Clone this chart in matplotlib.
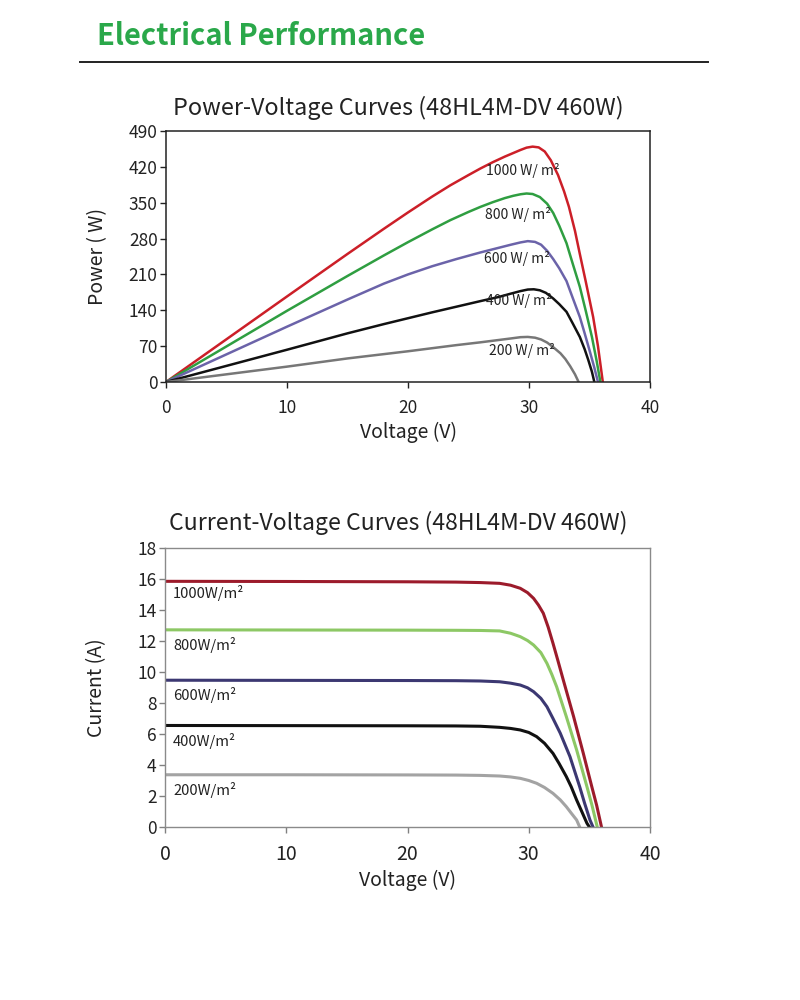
import matplotlib
matplotlib.use("Agg")
import matplotlib.pyplot as plt
from matplotlib.lines import Line2D

plt.rcParams['font.family'] = ['Noto Sans CJK SC', 'DejaVu Sans']

# ---------------- data ----------------
irradiance_pv = ["1000 W/ m²", "800 W/ m²", "600 W/ m²", "400 W/ m²", "200 W/ m²"]
irradiance_iv = ["1000W/m²", "800W/m²", "600W/m²", "400W/m²", "200W/m²"]

pv_v_1000 = [0, 10, 15, 18, 20, 22, 23.5, 25, 26, 27, 28, 28.7, 29.3, 29.8, 30.3, 30.8, 31.3, 31.8, 32.4, 32.9, 33.3, 33.8, 34.2, 34.7, 35.3, 35.7, 36.1]
pv_p_1000 = [0, 167, 250, 299, 331, 362, 384, 404, 417, 429, 440, 447, 453, 457.5, 459.5, 458, 450, 433, 404, 372, 342, 295, 250, 195, 127, 70, 0]
pv_v_800 = [0, 10, 15, 18, 20, 22, 23.5, 25, 26, 27, 28, 28.7, 29.3, 29.8, 30.3, 30.9, 31.5, 32, 32.5, 33.1, 33.6, 34.2, 34.7, 35.2, 35.6, 35.9]
pv_p_800 = [0, 139, 207, 247, 273, 298, 316, 332, 342, 351, 359, 363.5, 366.5, 368, 367, 361, 348, 330, 305, 271, 232, 186, 138, 88, 40, 0]
pv_v_600 = [0, 10, 15, 18, 20, 22, 24, 26, 27.5, 28.5, 29.3, 29.9, 30.5, 31, 31.5, 32, 32.5, 33.1, 33.6, 34.2, 34.6, 35, 35.4, 35.7]
pv_p_600 = [0, 108, 161, 192, 210, 226, 240, 253, 262, 268, 272.5, 275, 273.5, 268, 256, 240, 222, 197, 165, 127, 95, 62, 28, 0]
pv_v_400 = [0, 10, 15, 18, 20, 22, 24, 26, 27.5, 28.5, 29.3, 29.9, 30.4, 30.9, 31.4, 32, 32.5, 33.1, 33.6, 34.2, 34.6, 34.9, 35.2, 35.4]
pv_p_400 = [0, 63, 95, 113, 124.5, 136, 147, 158, 166, 172.5, 177.5, 180.5, 181, 179, 174, 163, 152, 137, 115, 88, 64, 43, 20, 0]
pv_v_200 = [0, 10, 15, 20, 22, 24, 26, 27.5, 28.5, 29.3, 29.9, 30.5, 31, 31.5, 32, 32.6, 33.0, 33.4, 33.8, 34.1]
pv_p_200 = [0, 30, 46, 60, 66, 72, 77.5, 82, 85, 87.5, 88, 86.5, 83, 77, 68, 56, 45, 31, 15, 0]

iv_v_1000 = [0, 10, 20, 24, 26, 27.6, 28.5, 29.3, 29.9, 30.4, 30.8, 31.2, 31.6, 32.0, 32.4, 32.85, 33.7, 34.5, 35.2, 35.6, 36.0]
iv_i_1000 = [15.85, 15.84, 15.82, 15.8, 15.77, 15.72, 15.6, 15.4, 15.12, 14.75, 14.32, 13.79, 12.9, 11.85, 10.75, 9.48, 7.12, 4.75, 2.6, 1.4, 0]
iv_v_800 = [0, 10, 20, 24, 26, 27.6, 28.5, 29.3, 29.9, 30.4, 31.0, 31.5, 31.9, 32.3, 33.1, 33.95, 34.8, 35.2, 35.65]
iv_i_800 = [12.72, 12.71, 12.7, 12.69, 12.68, 12.65, 12.5, 12.28, 12.03, 11.74, 11.25, 10.56, 9.85, 9.05, 7.12, 4.97, 2.6, 1.45, 0]
iv_v_600 = [0, 10, 20, 24, 26, 27.6, 28.5, 29.3, 29.9, 30.4, 31.0, 31.5, 32.0, 32.6, 33.4, 34.2, 34.6, 35.05, 35.3]
iv_i_600 = [9.47, 9.46, 9.45, 9.44, 9.42, 9.37, 9.28, 9.16, 8.98, 8.73, 8.3, 7.76, 7.0, 6.05, 4.54, 2.6, 1.55, 0.45, 0]
iv_v_400 = [0, 10, 20, 24, 26, 27.6, 28.5, 29.3, 30.0, 30.65, 31.3, 32.0, 32.5, 33.1, 33.5, 33.95, 34.4, 34.8, 35.0]
iv_i_400 = [6.55, 6.54, 6.53, 6.52, 6.5, 6.43, 6.36, 6.26, 6.1, 5.83, 5.4, 4.75, 4.1, 3.25, 2.6, 1.74, 0.95, 0.24, 0]
iv_v_200 = [0, 10, 20, 24, 26, 27.6, 28.5, 29.3, 30.0, 30.65, 31.3, 32.0, 32.6, 33.1, 33.5, 33.95, 34.2]
iv_i_200 = [3.37, 3.37, 3.36, 3.35, 3.33, 3.29, 3.23, 3.14, 3.0, 2.82, 2.55, 2.17, 1.75, 1.31, 0.9, 0.45, 0]

pv_ticks_y = [0, 70, 140, 210, 280, 350, 420, 490]
iv_ticks_y = [0, 2, 4, 6, 8, 10, 12, 14, 16, 18]
ticks_x = [0, 10, 20, 30, 40]

pv_colors = ["#cc1f28", "#2f9e41", "#6b63a9", "#111111", "#777777"]
iv_colors = ["#9c1b2b", "#8dc865", "#3c3872", "#111111", "#a3a3a3"]

W, H = 800, 1000
fig = plt.figure(figsize=(8, 10), dpi=100)


def fx(px):
    return px / W


def fy(py):
    return 1 - py / H


# header
fig.text(fx(97), fy(36), "Electrical Performance", color="#2aa84a", fontsize=21,
         fontweight="bold", ha="left", va="center")
fig.add_artist(Line2D([fx(80), fx(708)], [fy(62), fy(62)], color="#222222", lw=1.4))

# ---------------- Power-Voltage ----------------
ax1 = fig.add_axes([fx(166), fy(382), fx(650) - fx(166), fy(131) - fy(382)])
pv = [(pv_v_1000, pv_p_1000), (pv_v_800, pv_p_800), (pv_v_600, pv_p_600),
      (pv_v_400, pv_p_400), (pv_v_200, pv_p_200)]
for (v, p), c in zip(pv, pv_colors):
    ax1.plot(v, p, color=c, lw=1.8, solid_joinstyle="round")
ax1.set_xlim(0, 40)
ax1.set_ylim(0, 490)
ax1.set_xticks(ticks_x)
ax1.set_yticks(pv_ticks_y)
ax1.tick_params(axis="both", direction="out", length=4, width=1, labelsize=12.5,
                colors="#222222", pad=2)
ax1.tick_params(axis="x", pad=8)
for s in ax1.spines.values():
    s.set_color("#222222")
    s.set_linewidth(1.1)
ax1.set_xlabel("Voltage (V)", fontsize=14, color="#222222", labelpad=4)
ax1.set_ylabel("Power ( W)", fontsize=14, color="#222222", labelpad=15)
fig.text(fx(398), fy(108), "Power-Voltage Curves (48HL4M-DV 460W)", fontsize=16.8,
         ha="center", va="center", color="#222222")
pv_label_pos = [(523, 170), (518, 215), (517, 258), (519, 301), (522, 351)]
for (lx, ly), t in zip(pv_label_pos, irradiance_pv):
    ax1.annotate(t, xy=(fx(lx), fy(ly)), xycoords="figure fraction", fontsize=10,
                 ha="center", va="center", color="#222222")

# ---------------- Current-Voltage ----------------
ax2 = fig.add_axes([fx(165), fy(827), fx(650) - fx(165), fy(548) - fy(827)])
iv = [(iv_v_1000, iv_i_1000), (iv_v_800, iv_i_800), (iv_v_600, iv_i_600),
      (iv_v_400, iv_i_400), (iv_v_200, iv_i_200)]
for (v, i), c in zip(iv, iv_colors):
    ax2.plot(v, i, color=c, lw=2.2, solid_joinstyle="round")
ax2.set_xlim(0, 40)
ax2.set_ylim(0, 18)
ax2.set_xticks(ticks_x)
ax2.set_yticks(iv_ticks_y)
ax2.tick_params(axis="both", direction="out", length=4, width=1, labelsize=12.5,
                colors="#222222", pad=2)
ax2.tick_params(axis="both", color="#808080")
ax2.tick_params(axis="x", pad=8, labelsize=14)
for s in ax2.spines.values():
    s.set_color("#8a8a8a")
    s.set_linewidth(1.0)
ax2.set_xlabel("Voltage (V)", fontsize=14, color="#222222", labelpad=4)
ax2.set_ylabel("Current (A)", fontsize=14, color="#222222", labelpad=22)
fig.text(fx(398), fy(523), "Current-Voltage Curves (48HL4M-DV 460W)", fontsize=16.6,
         ha="center", va="center", color="#222222")
iv_label_y = [593, 645, 695, 741, 790]
for ly, t in zip(iv_label_y, irradiance_iv):
    ax2.annotate(t, xy=(fx(173), fy(ly)), xycoords="figure fraction", fontsize=10.6,
                 ha="left", va="center", color="#222222")

fig.savefig("out.png", dpi=100, facecolor="white")
